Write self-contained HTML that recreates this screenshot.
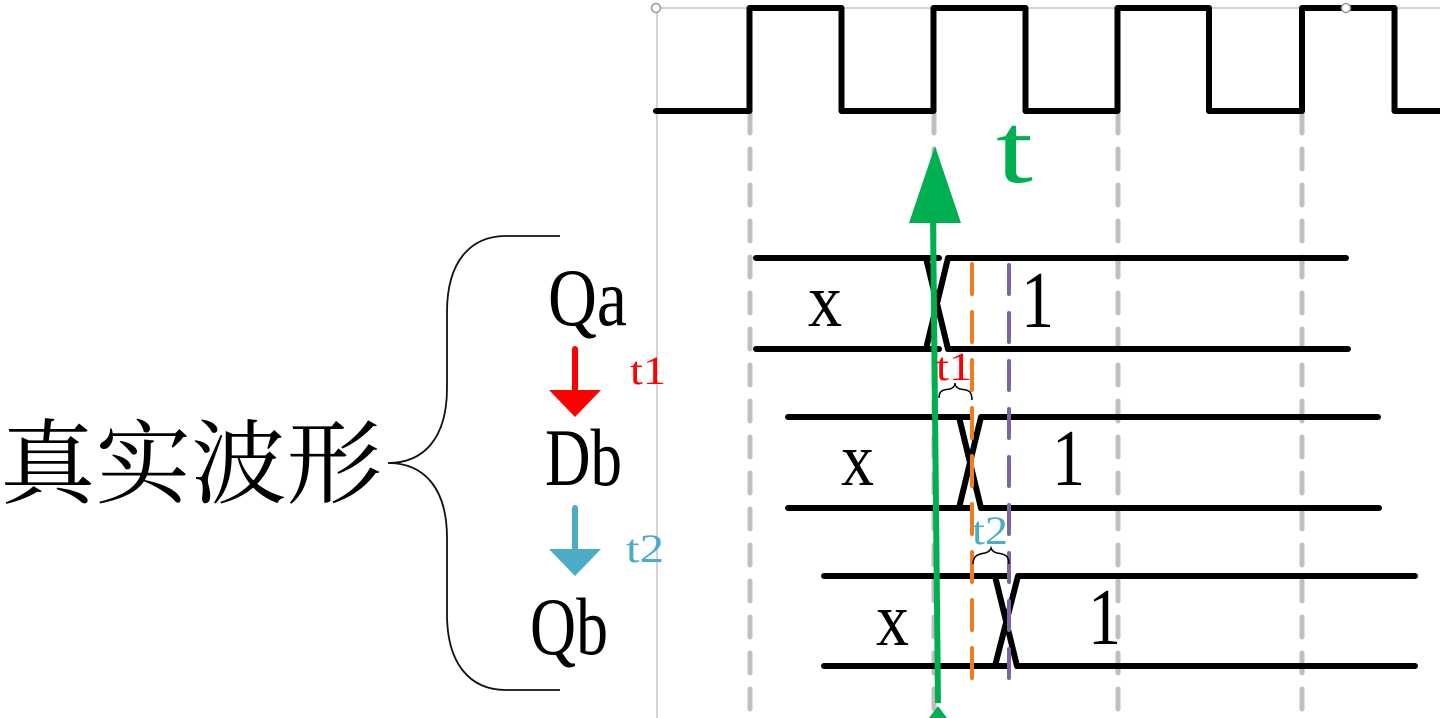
<!DOCTYPE html>
<html><head><meta charset="utf-8"><style>
html,body{margin:0;padding:0;background:#fff;width:1440px;height:718px;overflow:hidden}
svg{display:block}
text{font-family:"Liberation Serif","Noto Serif CJK SC",serif}
</style></head><body>
<svg width="1440" height="718" viewBox="0 0 1440 718" xmlns="http://www.w3.org/2000/svg">
<rect width="1440" height="718" fill="#fff"/>
<path d="M656.500 8H1440M657 8V718" fill="none" stroke="#aaa" stroke-width="1"/>
<g fill="none" stroke="#bfbfbf" stroke-width="5" stroke-linecap="round" stroke-dasharray="20 16">
<path d="M750 113V718"/><path d="M934 113V718"/><path d="M1118 113V718"/><path d="M1302 113V718"/>
</g>
<path d="M656 111H749.500V8H841.500V111H933.500V8H1025.500V111H1117.500V8H1209V111H1302V8H1394.500V111H1440" fill="none" stroke="#000" stroke-width="6" stroke-linejoin="round" stroke-linecap="round"/>
<circle cx="656" cy="8" r="4.500" fill="#fff" stroke="#999" stroke-width="1.500"/>
<circle cx="1346" cy="8" r="4.500" fill="#fff" stroke="#999" stroke-width="1.500"/>
<g fill="none" stroke="#000" stroke-width="6" stroke-linecap="round" stroke-linejoin="round">
<path d="M756 258H939M756 349H939M926 258L948 349H1348M926 349L948 258H1346"/>
<path d="M788 417H970M788 508H970M959 417L981 508H1379M959 508L981 417H1378"/>
<path d="M824 576H1008M824 666H1008M995 576L1017 666H1415M995 666L1018 576H1415"/>
</g>
<path d="M972 264V680" stroke="#ed7d1f" stroke-width="4" fill="none" stroke-linecap="round" stroke-dasharray="30 18"/>
<path d="M1009 265V680" stroke="#8064a2" stroke-width="4" fill="none" stroke-linecap="round" stroke-dasharray="29 19"/>
<path d="M933 215L938 703" stroke="#00b050" stroke-width="6" fill="none"/>
<path d="M935 146L961 223H909Z" fill="#00b050"/>
<path d="M938 706L950 722H926Z" fill="#00b050"/>
<text x="996" y="182" font-size="100" fill="#00b050" textLength="37" lengthAdjust="spacingAndGlyphs">t</text>
<text x="808" y="326" font-size="76" textLength="34" lengthAdjust="spacingAndGlyphs">x</text>
<text x="1021" y="327" font-size="80" textLength="33" lengthAdjust="spacingAndGlyphs">1</text>
<text x="841" y="485" font-size="76" textLength="33" lengthAdjust="spacingAndGlyphs">x</text>
<text x="1052" y="485" font-size="80" textLength="33" lengthAdjust="spacingAndGlyphs">1</text>
<text x="876" y="645" font-size="76" textLength="33" lengthAdjust="spacingAndGlyphs">x</text>
<text x="1088" y="644" font-size="80" textLength="33" lengthAdjust="spacingAndGlyphs">1</text>
<text x="936" y="380" font-size="40" fill="#f00" textLength="36" lengthAdjust="spacingAndGlyphs">t1</text>
<text x="972" y="544" font-size="40" fill="#4bacc6" textLength="36" lengthAdjust="spacingAndGlyphs">t2</text>
<text x="630" y="384" font-size="40" fill="#f00" textLength="36" lengthAdjust="spacingAndGlyphs">t1</text>
<text x="626" y="562" font-size="40" fill="#4bacc6" textLength="38" lengthAdjust="spacingAndGlyphs">t2</text>
<text x="548" y="325" font-size="82" textLength="79" lengthAdjust="spacingAndGlyphs">Qa</text>
<text x="545" y="485" font-size="82" textLength="77" lengthAdjust="spacingAndGlyphs">Db</text>
<text x="530" y="654" font-size="82" textLength="78" lengthAdjust="spacingAndGlyphs">Qb</text>
<text x="0" y="496" font-size="92" style="font-family:'Noto Serif CJK SC','Liberation Serif',serif" textLength="382" lengthAdjust="spacingAndGlyphs">真实波形</text>
<path d="M560 236H506C470 236 447 262 447 312V388C447 438 424 463 388 463C424 463 447 488 447 538V614C447 664 470 690 506 690H560" fill="none" stroke="#111" stroke-width="1.800"/>
<path d="M575 349V395" stroke="#f00" stroke-width="6" stroke-linecap="round"/>
<path d="M549 390H601L575 417Z" fill="#f00"/>
<path d="M575 508V555" stroke="#4bacc6" stroke-width="6" stroke-linecap="round"/>
<path d="M549 549H601L575 576Z" fill="#4bacc6"/>
<path d="M939 398C939 389 945 390 950 389C953 388 955 386 955 383C955 386 957 388 960 389C966 390 972 389 972 400" fill="none" stroke="#000" stroke-width="1.500"/>
<path d="M973 564C973 555 979 554 985 553C988 552 990 551 991 548C992 551 994 552 997 553C1004 554 1009 555 1009 564" fill="none" stroke="#000" stroke-width="1.500"/>
</svg>
</body></html>
